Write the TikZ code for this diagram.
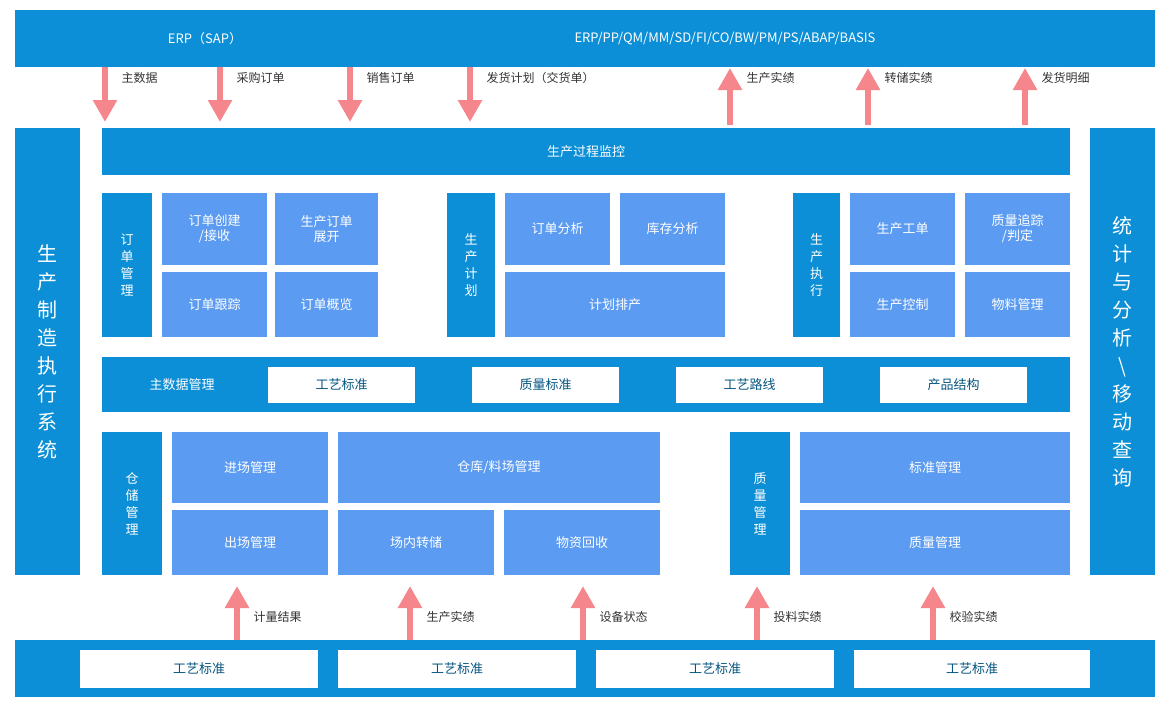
\documentclass[tikz,border=0pt]{standalone}
\usepackage{fontspec}
\setmainfont{Noto Sans CJK SC}
\usetikzlibrary{arrows.meta}
\definecolor{barblue}{HTML}{0C8FD6}
\definecolor{boxblue}{HTML}{5B9BF2}
\definecolor{arrowpink}{HTML}{F5878C}
\definecolor{labelgrey}{HTML}{333333}
\tikzset{
  bar/.style={fill=barblue,draw=none},
  cell/.style={fill=boxblue,draw=none},
  slot/.style={fill=white,draw=none},
  txt/.style={text=white,font=\fontsize{13}{15}\selectfont,align=center},
  slottxt/.style={text=barblue!60!black,font=\fontsize{13}{15}\selectfont},
  vtxt/.style={text=white,font=\fontsize{13}{17}\selectfont,align=center},
  bigtxt/.style={text=white,font=\fontsize{20}{28}\selectfont,align=center},
  flow/.style={arrowpink,line width=6pt,-{Triangle[width=23pt,length=22pt]}},
  flowlabel/.style={text=labelgrey,font=\fontsize{12}{14}\selectfont,anchor=west}
}
\newcommand\blk[6]{% style, name, x1, y1, x2, y2
  \path[#1] (#3,#4) rectangle (#5,#6);
  \coordinate (#2) at ($(#3,#4)!.5!(#5,#6)$);}
\usetikzlibrary{calc}
\begin{document}
\begin{tikzpicture}[x=1pt,y=-1pt]
\useasboundingbox (0,0) rectangle (1169,705);
% top and bottom systems
\blk{bar}{erp}{15}{10}{1155}{67}
\node[txt] at (205,39) {ERP（SAP）};
\node[txt] at (725,39) {ERP/PP/QM/MM/SD/FI/CO/BW/PM/PS/ABAP/BASIS};
\blk{bar}{plant}{15}{640}{1155}{697}
\foreach \xa/\xb [count=\i] in {80/318,338/576,596/834,854/1090} {
  \blk{slot}{lvl\i}{\xa}{650}{\xb}{688}
  \node[slottxt] at (lvl\i) {工艺标准};
}
% side columns
\blk{bar}{mes}{15}{128}{80}{575}
\node[bigtxt] at (mes) {生\\产\\制\\造\\执\\行\\系\\统};
\blk{bar}{stat}{1090}{128}{1155}{575}
\node[bigtxt] at (stat) {统\\计\\与\\分\\析\\\textbackslash\\移\\动\\查\\询};
% monitoring
\blk{bar}{mon}{102}{128}{1070}{175}
\node[txt] at (mon) {生产过程监控};
% order management
\blk{bar}{ordm}{102}{193}{152}{337}
\node[vtxt] at (ordm) {订\\单\\管\\理};
\blk{cell}{ord1}{162}{193}{267}{265} \node[txt] at (ord1) {订单创建\\/接收};
\blk{cell}{ord2}{275}{193}{378}{265} \node[txt] at (ord2) {生产订单\\展开};
\blk{cell}{ord3}{162}{272}{267}{337} \node[txt] at (ord3) {订单跟踪};
\blk{cell}{ord4}{275}{272}{378}{337} \node[txt] at (ord4) {订单概览};
% planning
\blk{bar}{plan}{447}{193}{495}{337}
\node[vtxt] at (plan) {生\\产\\计\\划};
\blk{cell}{pln1}{505}{193}{610}{265} \node[txt] at (pln1) {订单分析};
\blk{cell}{pln2}{620}{193}{725}{265} \node[txt] at (pln2) {库存分析};
\blk{cell}{pln3}{505}{272}{725}{337} \node[txt] at (pln3) {计划排产};
% execution
\blk{bar}{exe}{793}{193}{840}{337}
\node[vtxt] at (exe) {生\\产\\执\\行};
\blk{cell}{exe1}{850}{193}{955}{265} \node[txt] at (exe1) {生产工单};
\blk{cell}{exe2}{965}{193}{1070}{265} \node[txt] at (exe2) {质量追踪\\/判定};
\blk{cell}{exe3}{850}{272}{955}{337} \node[txt] at (exe3) {生产控制};
\blk{cell}{exe4}{965}{272}{1070}{337} \node[txt] at (exe4) {物料管理};
% master data
\blk{bar}{mdm}{102}{357}{1070}{412}
\node[txt] at (182,385) {主数据管理};
\foreach \xa/\xb/\lbl [count=\i] in {268/415/工艺标准,472/619/质量标准,676/823/工艺路线,880/1027/产品结构} {
  \blk{slot}{md\i}{\xa}{367}{\xb}{403}
  \node[slottxt] at (md\i) {\lbl};
}
% warehouse
\blk{bar}{wh}{102}{432}{162}{575}
\node[vtxt] at (wh) {仓\\储\\管\\理};
\blk{cell}{wh1}{172}{432}{328}{503} \node[txt] at (wh1) {进场管理};
\blk{cell}{wh2}{338}{432}{660}{503} \node[txt] at (wh2) {仓库/料场管理};
\blk{cell}{wh3}{172}{510}{328}{575} \node[txt] at (wh3) {出场管理};
\blk{cell}{wh4}{338}{510}{494}{575} \node[txt] at (wh4) {场内转储};
\blk{cell}{wh5}{504}{510}{660}{575} \node[txt] at (wh5) {物资回收};
% quality
\blk{bar}{qm}{730}{432}{790}{575}
\node[vtxt] at (qm) {质\\量\\管\\理};
\blk{cell}{qm1}{800}{432}{1070}{503} \node[txt] at (qm1) {标准管理};
\blk{cell}{qm2}{800}{510}{1070}{575} \node[txt] at (qm2) {质量管理};
% flows from ERP
\foreach \x/\lbl [count=\i] in {105/主数据,220/采购订单,350/销售订单,470/发货计划（交货单）} {
  \coordinate (dn\i) at (\x,67);
  \draw[flow] (dn\i) -- ++(0,55);
  \node[flowlabel] at ($(dn\i)+(13,11)$) {\lbl};
}
\foreach \x/\lbl [count=\i] in {730/生产实绩,868/转储实绩,1025/发货明细} {
  \coordinate (up\i) at (\x,125);
  \draw[flow] (up\i) -- ++(0,-57);
  \node[flowlabel] at ($(up\i)+(13,-47)$) {\lbl};
}
% flows from plant level
\foreach \x/\lbl [count=\i] in {237/计量结果,410/生产实绩,583/设备状态,757/投料实绩,933/校验实绩} {
  \coordinate (fb\i) at (\x,640);
  \draw[flow] (fb\i) -- ++(0,-54);
  \node[flowlabel] at ($(fb\i)+(13,-23)$) {\lbl};
}
\end{tikzpicture}
\end{document}
